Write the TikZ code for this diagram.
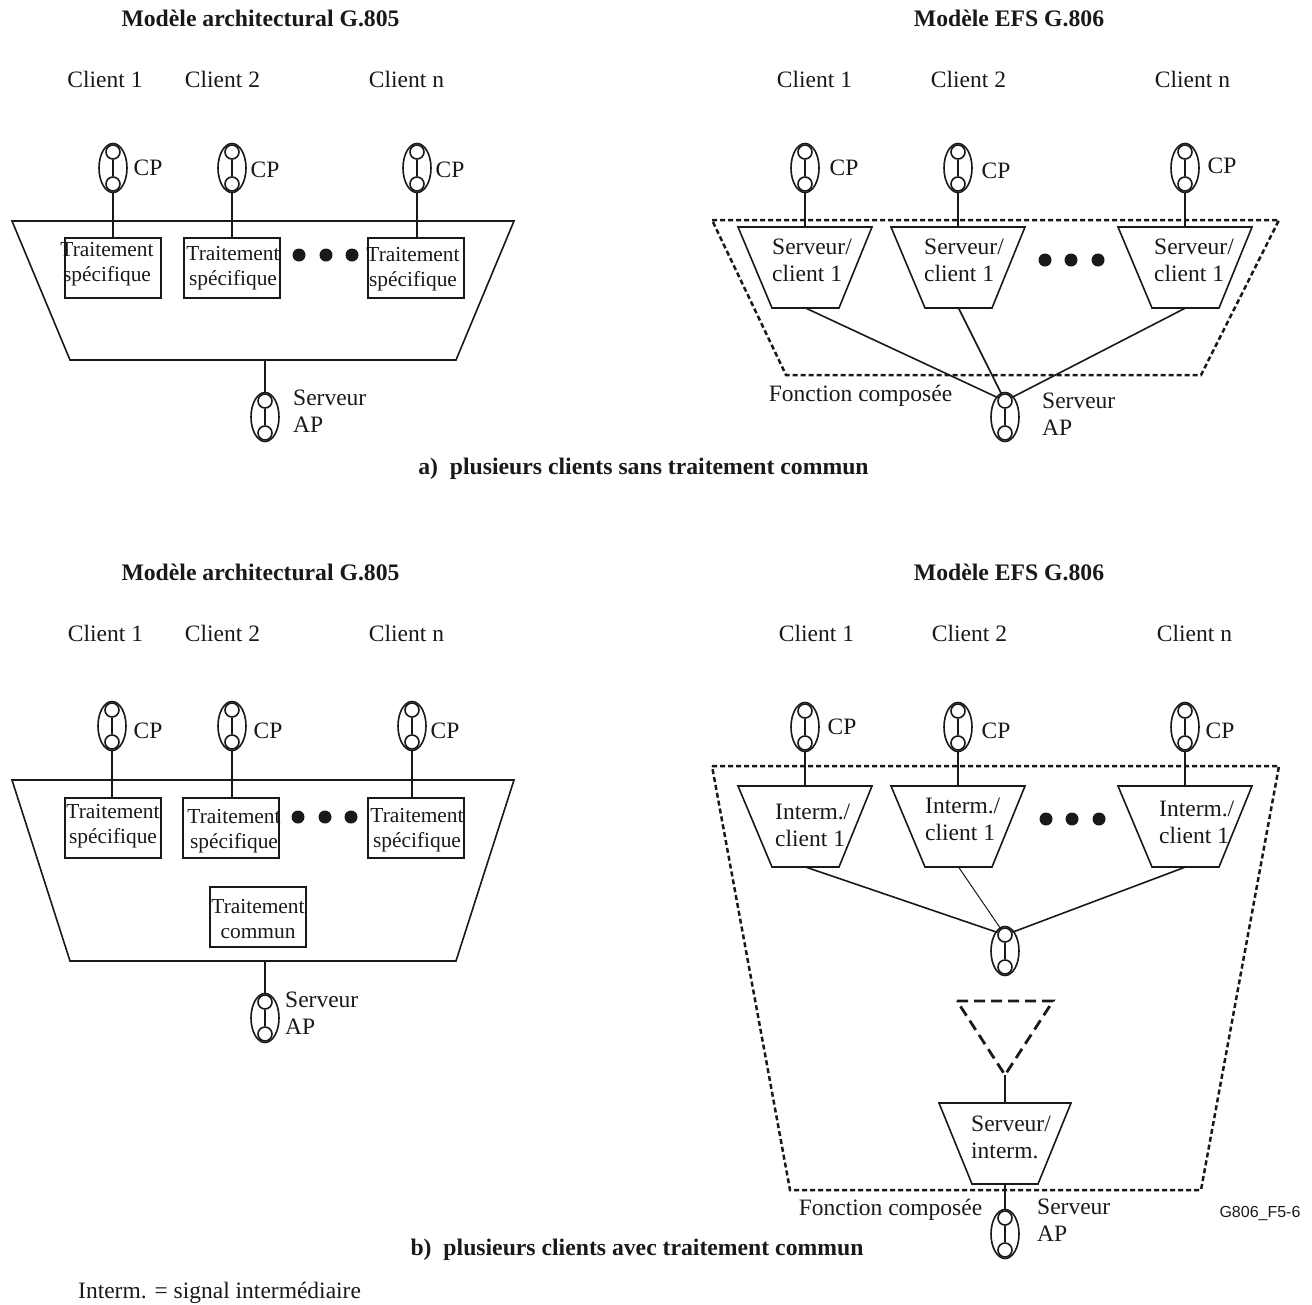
\documentclass[tikz,border=0pt]{standalone}
\usepackage{fontspec}
\setmainfont{Liberation Serif}
\newfontfamily\labelsans{Liberation Sans}
\newcommand{\pinnode}[3]{%
  \node[pinell] (#1) at (#2,#3+24) {};
  \node[pindot] (#1t) at (#2,#3+8) {};
  \node[pindot] (#1b) at (#2,#3+40) {};
  \draw[wire] (#1t) -- (#1b);
}
\newcommand{\trap}[7]{% name, x-left-top, x-right-top, y-top, x-left-bot, x-right-bot, y-bot
  \coordinate (#1a) at (#2,#4);
  \coordinate (#1b) at (#3,#4);
  \coordinate (#1c) at (#6,#7);
  \coordinate (#1d) at (#5,#7);
  \coordinate (#1n) at ({(#2+#3)/2},#4);
  \coordinate (#1s) at ({(#5+#6)/2},#7);
}
\tikzset{
  wire/.style={line width=1.9pt,black!90},
  fan/.style={line width=1.6pt,black!90},
  outline/.style={line width=1.6pt,black!90,line join=miter},
  dotbox/.style={line width=2.5pt,black!90,dash pattern=on 5pt off 3pt},
  dashtri/.style={line width=2.8pt,black!90,dash pattern=on 11pt off 6pt},
  pinell/.style={draw,line width=1.6pt,black!90,ellipse,minimum width=28pt,minimum height=49pt,inner sep=0pt},
  pindot/.style={draw,line width=1.6pt,black!90,fill=white,circle,minimum size=14pt,inner sep=0pt},
  bigdot/.style={fill=black!90,circle,minimum size=13pt,inner sep=0pt},
  txt/.style={font=\fontsize{23.5}{27}\selectfont,inner sep=0pt,text=black!90},
  boxtxt/.style={font=\fontsize{21.4}{24.6}\selectfont,inner sep=0pt,text=black!90,align=center},
  ttl/.style={font=\fontsize{23.7}{27}\selectfont\bfseries,inner sep=0pt,text=black!90},
  tbox/.style={draw,line width=1.6pt,black!90,minimum width=96pt,minimum height=60pt,inner sep=0pt},
  lft/.style={txt,align=left,anchor=west},
}
\usetikzlibrary{shapes.geometric}
\begin{document}
\begin{tikzpicture}[x=1pt,y=-1pt]
\useasboundingbox (0,0) rectangle (1312,1304);
% ---------- titles
\node[ttl] (t1) at (260.5,18) {Modèle architectural G.805};
\node[ttl] (t2) at (1009,18) {Modèle EFS G.806};
\node[ttl] (t3) at (260.5,572) {Modèle architectural G.805};
\node[ttl] (t4) at (1009,572) {Modèle EFS G.806};
\node[ttl] (capa) at (643.5,469) {a)\ \ plusieurs clients sans traitement commun};
\node[ttl] (capb) at (637,1250) {b)\ \ plusieurs clients avec traitement commun};
\node[txt,anchor=west] (note) at (78,1293) {Interm. = signal intermédiaire};
\node[font=\labelsans\fontsize{16}{18}\selectfont,inner sep=0pt,text=black!90] (ref) at (1260,1213) {G806\_F5-6};
% ---------- client labels
\foreach \n/\x/\y/\s in {ca1/105/79.5/Client 1,ca2/222.5/79.5/Client 2,ca3/406.5/79.5/Client n,
  cb1/814.5/79.5/Client 1,cb2/968.5/79.5/Client 2,cb3/1192.5/79.5/Client n,
  cc1/105.5/633.5/Client 1,cc2/222.5/633.5/Client 2,cc3/406.5/633.5/Client n,
  cd1/816.5/633.5/Client 1,cd2/969.5/633.5/Client 2,cd3/1194.5/633.5/Client n}
  {\node[txt] (\n) at (\x,\y) {\s};}
% ---------- CP labels
\foreach \n/\x/\y in {pa1/148/168,pa2/265/170,pa3/450/170,
  pb1/844/168,pb2/996/171,pb3/1222/166,
  pc1/148/731,pc2/268/731,pc3/445/731,
  pd1/842/727,pd2/996/731,pd3/1220/731}
  {\node[txt] (\n) at (\x,\y) {CP};}
% ========== a) left
\trap{A}{12}{514}{221}{70}{456}{360}
\draw[outline] (Aa) -- (Ab) -- (Ac) -- (Ad) -- cycle;
\node[tbox] (ba1) at (113,268) {};
\node[tbox] (ba2) at (232,268) {};
\node[tbox] (ba3) at (416,268) {};
\node[boxtxt] (la1) at (107,264) {Traitement\\spécifique};
\node[boxtxt] (la2) at (233,268) {Traitement\\spécifique};
\node[boxtxt] (la3) at (413,269) {Traitement\\spécifique};
\foreach \n/\x in {da1/299,da2/326,da3/352} {\node[bigdot] (\n) at (\x,255) {};}
\pinnode{qa1}{113}{144}\pinnode{qa2}{232}{144}\pinnode{qa3}{417}{144}
\draw[wire] (qa1b) -- (qa1b |- ba1.north);
\draw[wire] (qa2b) -- (qa2b |- ba2.north);
\draw[wire] (qa3b) -- (qa3b |- ba3.north);
\pinnode{sa}{265}{393}
\coordinate (sac) at (265,360);
\draw[wire] (sac) -- (sat);
\node[lft] (sal) at (293,411) {Serveur\\AP};
% ========== a) right
\trap{B}{712}{1279}{220}{786}{1201}{375}
\draw[dotbox] (Ba) -- (Bb) -- (Bc) -- (Bd) -- cycle;
\trap{Ba1x}{738}{872}{227}{772}{839}{308}
\trap{Ba2x}{891}{1025}{227}{925}{992}{308}
\trap{Ba3x}{1118}{1252}{227}{1152}{1219}{308}
\foreach \t in {Ba1x,Ba2x,Ba3x} {\draw[outline] (\t a) -- (\t b) -- (\t c) -- (\t d) -- cycle;}
\node[lft,yshift=-1pt] (lb1) at (772,259) {Serveur/\\client 1};
\node[lft,yshift=-1pt] (lb2) at (924,259) {Serveur/\\client 1};
\node[lft,yshift=-1pt] (lb3) at (1154,259) {Serveur/\\client 1};
\foreach \n/\x in {db1/1045,db2/1071,db3/1098} {\node[bigdot] (\n) at (\x,260) {};}
\pinnode{qb1}{805}{144}\pinnode{qb2}{958}{144}\pinnode{qb3}{1185}{144}
\draw[wire] (qb1b) -- (qb1b |- Ba1xn);
\draw[wire] (qb2b) -- (qb2b |- Ba2xn);
\draw[wire] (qb3b) -- (qb3b |- Ba3xn);
\pinnode{sb}{1005}{393}
\draw[fan] (Ba1xs) -- (sbt);
\draw[fan] (Ba2xs) -- (sbt);
\draw[fan] (Ba3xs) -- (sbt);
\node[txt,yshift=-1pt] (fa) at (860.5,395) {Fonction composée};
\node[lft] (sbl) at (1042,414) {Serveur\\AP};
% ========== b) left
\trap{C}{12}{514}{780}{70}{456}{961}
\draw[outline] (Ca) -- (Cb) -- (Cc) -- (Cd) -- cycle;
\node[tbox] (bc1) at (113,828) {};
\node[tbox] (bc2) at (231,828) {};
\node[tbox] (bc3) at (416,828) {};
\node[tbox] (bc4) at (258,917) {};
\node[boxtxt] (lc1) at (113,826) {Traitement\\spécifique};
\node[boxtxt] (lc2) at (234,831) {Traitement\\spécifique};
\node[boxtxt] (lc3) at (417,830) {Traitement\\spécifique};
\node[boxtxt] (lc4) at (258,919) {Traitement\\commun};
\foreach \n/\x in {dc1/298,dc2/325,dc3/351} {\node[bigdot] (\n) at (\x,817) {};}
\pinnode{qc1}{112}{702}\pinnode{qc2}{232}{702}\pinnode{qc3}{412}{702}
\draw[wire] (qc1b) -- (qc1b |- bc1.north);
\draw[wire] (qc2b) -- (qc2b |- bc2.north);
\draw[wire] (qc3b) -- (qc3b |- bc3.north);
\pinnode{sc}{265}{994}
\coordinate (scc) at (265,961);
\draw[wire] (scc) -- (sct);
\node[lft] (scl) at (285,1013) {Serveur\\AP};
% ========== b) right
\trap{D}{712}{1279}{766}{790}{1201}{1190}
\draw[dotbox] (Da) -- (Db) -- (Dc) -- (Dd) -- cycle;
\trap{Da1x}{738}{872}{786}{772}{839}{867}
\trap{Da2x}{891}{1025}{786}{925}{992}{867}
\trap{Da3x}{1118}{1252}{786}{1152}{1219}{867}
\foreach \t in {Da1x,Da2x,Da3x} {\draw[outline] (\t a) -- (\t b) -- (\t c) -- (\t d) -- cycle;}
\node[lft] (ld1) at (775,825) {Interm./\\client 1};
\node[lft] (ld2) at (925,819) {Interm./\\client 1};
\node[lft] (ld3) at (1159,822) {Interm./\\client 1};
\foreach \n/\x in {dd1/1046,dd2/1072,dd3/1099} {\node[bigdot] (\n) at (\x,819) {};}
\pinnode{qd1}{805}{703}\pinnode{qd2}{958}{703}\pinnode{qd3}{1185}{703}
\draw[wire] (qd1b) -- (qd1b |- Da1xn);
\draw[wire] (qd2b) -- (qd2b |- Da2xn);
\draw[wire] (qd3b) -- (qd3b |- Da3xn);
\pinnode{qm}{1005}{927}
\draw[fan] (Da1xs) -- (qmt);
\draw[line width=1pt,black!90] (Da2xs) -- (qmt);
\draw[fan] (Da3xs) -- (qmt);
\coordinate (ta) at (957,1001);
\coordinate (tb) at (1053,1001);
\coordinate (tc) at (1005,1075);
\draw[dashtri] (ta) -- (tb) -- (tc) -- cycle;
\trap{E}{939}{1071}{1103}{972}{1038}{1184}
\draw[outline] (Ea) -- (Eb) -- (Ec) -- (Ed) -- cycle;
\draw[wire] (tc) -- (En);
\node[lft] (le) at (971,1137) {Serveur/\\interm.};
\pinnode{sd}{1005}{1210}
\draw[wire] (Es) -- (sdt);
\node[txt] (fb) at (890.5,1210) {Fonction composée};
\node[lft] (sdl) at (1037,1220) {Serveur\\AP};
\end{tikzpicture}
\end{document}
